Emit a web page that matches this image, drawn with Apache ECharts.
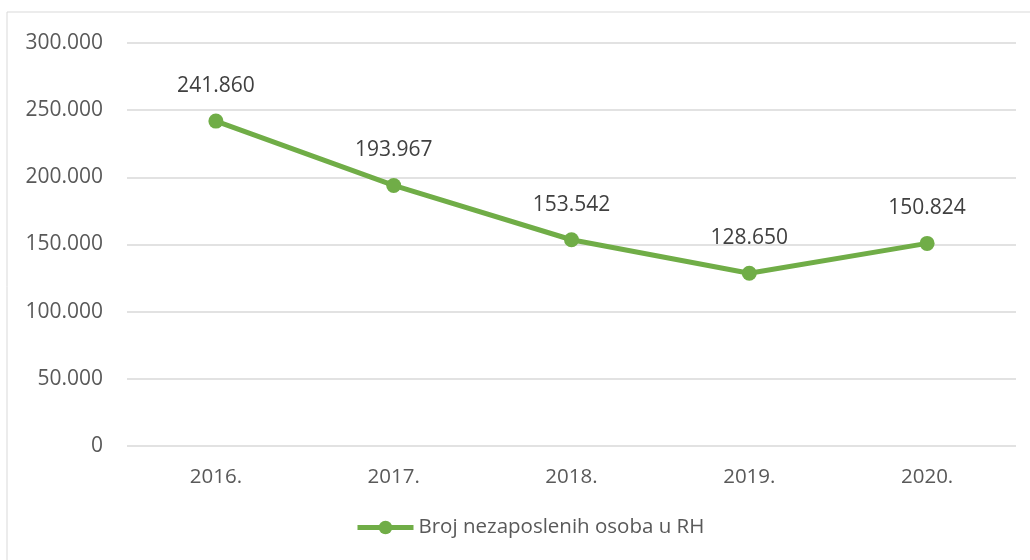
<!DOCTYPE html>
<html lang="hr">
<head>
	<meta charset="UTF-8">
	<title>Broj nezaposlenih osoba u RH</title>
	<style>
	body, div {
		margin: 0;
		padding: 0;
	}
	#echart {
		width: 1030px;
		height: 560px;
		background: #fff;
	}
	</style>
</head>
<body>
	<div id="echart"></div>

	<script src="https://cdn.jsdelivr.net/npm/echarts@6/dist/echarts.min.js"></script>

	<script>
		var years = ['2016.', '2017.', '2018.', '2019.', '2020.'];
		var unemployed = [241860, 193967, 153542, 128650, 150824];
		var seriesName = 'Broj nezaposlenih osoba u RH';

		// 241860 -> "241.860"
		function fmt(v) {
			return String(v).replace(/\B(?=(\d{3})+(?!\d))/g, '.');
		}

		var myEchart = echarts.init(document.getElementById('echart'));

		var font = 'Open Sans';
		var textColor = '#595959';

		var option = {
			animation: false,
			textStyle: { fontFamily: font },
			graphic: [{
				type: 'rect',
				shape: { x: 7, y: 12, width: 1040, height: 580 },
				style: { fill: 'none', stroke: '#d9d9d9', lineWidth: 1 },
				silent: true
			}],
			grid: {
				left: 127,
				right: 14,
				top: 43,
				bottom: 114
			},
			legend: {
				bottom: 17,
				left: 350,
				itemWidth: 56,
				itemHeight: 17,
				itemGap: 6,
				lineStyle: { width: 5 },
				textStyle: { color: textColor, fontSize: 20.5, fontFamily: font },
				data: [seriesName]
			},
			xAxis: {
				type: 'category',
				data: years,
				axisLine: { show: false },
				axisTick: { show: false },
				axisLabel: { color: textColor, fontSize: 20.5, margin: 21 }
			},
			yAxis: {
				type: 'value',
				min: 0,
				max: 300000,
				interval: 50000,
				axisLine: { show: false },
				axisTick: { show: false },
				splitLine: { lineStyle: { color: '#d9d9d9', width: 1.5 } },
				axisLabel: {
					color: textColor,
					fontSize: 21,
					margin: 24,
					formatter: function (v) { return fmt(v); }
				}
			},
			series: [{
				name: seriesName,
				type: 'line',
				data: unemployed,
				symbol: 'circle',
				symbolSize: 15,
				lineStyle: { color: '#70ad47', width: 5 },
				itemStyle: { color: '#70ad47' },
				label: {
					show: true,
					position: 'top',
					distance: 17,
					color: '#404040',
					fontSize: 21,
					formatter: function (p) { return fmt(p.value); }
				}
			}]
		};

		myEchart.setOption(option);
	</script>
</body>
</html>
